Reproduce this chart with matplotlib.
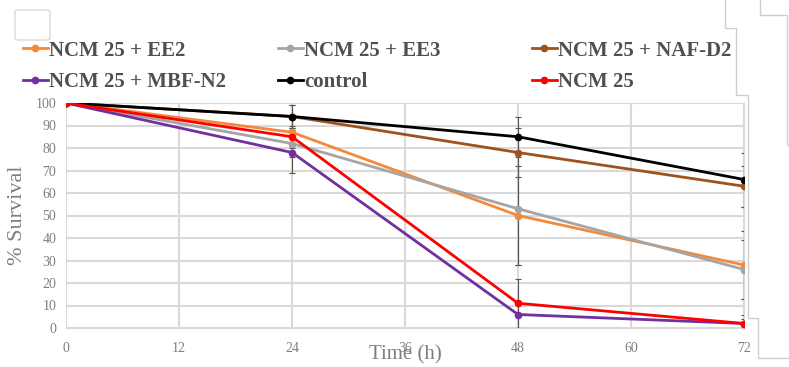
import matplotlib.pyplot as plt
from matplotlib.lines import Line2D
from matplotlib.patches import FancyBboxPatch

# survival data
hours = [0, 24, 48, 72]
ee2 = [100, 87, 50, 28]
ee3 = [100, 82, 53, 26]
naf_d2 = [100, 94, 78, 63]
mbf_n2 = [100, 78, 6, 2]
control = [100, 94, 85, 66]
ncm25 = [100, 85, 11, 2]

ee2_err = [0, 6, 22, 15]
ee3_err = [0, 6, 25, 13]
naf_d2_err = [0, 5, 11, 9]
mbf_n2_err = [0, 9, 6, 2]
control_err = [0, 5, 9, 12]
ncm25_err = [0, 5, 11, 4]

labels = ['NCM 25 + EE2', 'NCM 25 + EE3', 'NCM 25 + NAF-D2',
          'NCM 25 + MBF-N2', 'control', 'NCM 25']
series = [ee2, ee3, naf_d2, mbf_n2, control, ncm25]
errors = [ee2_err, ee3_err, naf_d2_err, mbf_n2_err, control_err, ncm25_err]
colors = ['#F4893A', '#A5A5A5', '#A0521C', '#7030A0', '#000000', '#FF0000']

plt.rcParams['font.family'] = ['Liberation Serif', 'DejaVu Serif']

W, H = 789, 367
fig = plt.figure(figsize=(W / 100, H / 100), dpi=100)
ax = fig.add_axes([66 / W, 1 - 328 / H, (744 - 66) / W, (328 - 103) / H])

handles = []
for y, e, c, lab in zip(series, errors, colors, labels):
    ax.errorbar(hours, y, yerr=e, fmt='none', ecolor='#555555', elinewidth=0.8,
                capsize=2, capthick=0.8, zorder=2)
    h, = ax.plot(hours, y, '-o', color=c, lw=2, ms=4.5, label=lab, zorder=3)
    handles.append(h)

ax.set_xlim(0, 72)
ax.set_ylim(0, 100)
ax.set_xticks(range(0, 73, 12))
ax.set_yticks(range(0, 101, 10))
ax.grid(True, color='#d9d9d9', lw=1.5)
ax.set_axisbelow(True)
for s in ax.spines.values():
    s.set_color('#d9d9d9')
ax.tick_params(length=0, labelsize=10, labelcolor='#7f7f7f')
ax.tick_params(axis='x', pad=10)
ax.tick_params(axis='y', pad=7)

ax.set_ylabel('% Survival', fontsize=16, color='#7f7f7f')
ax.yaxis.set_label_coords(-0.057, 0.5)
ax.set_xlabel('Time (h)', fontsize=15, color='#7f7f7f')
ax.xaxis.set_label_coords(0.5, -0.075)

# legend, one block per column
col_x = [4, 259, 513]
for i, x in enumerate(col_x):
    fig.legend(handles=[handles[i], handles[i + 3]], loc='upper left',
               bbox_to_anchor=(x / W, 1 - 22 / H), frameon=False,
               prop={'weight': 'bold', 'size': 15}, handlelength=1.2,
               handletextpad=0.08, labelspacing=0.55, labelcolor='#505050')

# stray outline boxes around the figure
fig.add_artist(FancyBboxPatch((15 / W, 1 - 40 / H), 35 / W, 30 / H,
                              boxstyle='round,pad=0,rounding_size=0.005',
                              transform=fig.transFigure, fill=False,
                              ec='#d9d9d9', lw=1))
paths = [
    [(725, 0), (725, 28), (736, 28), (736, 95), (748, 95), (748, 318),
     (758, 318), (758, 358), (789, 358)],
    [(760, 0), (760, 15), (787, 15), (787, 145), (789, 145)],
]
for p in paths:
    xs = [a / W for a, b in p]
    ys = [1 - b / H for a, b in p]
    fig.add_artist(Line2D(xs, ys, color='#cfcfcf', lw=1, transform=fig.transFigure))

fig.savefig('out.png', dpi=100)
